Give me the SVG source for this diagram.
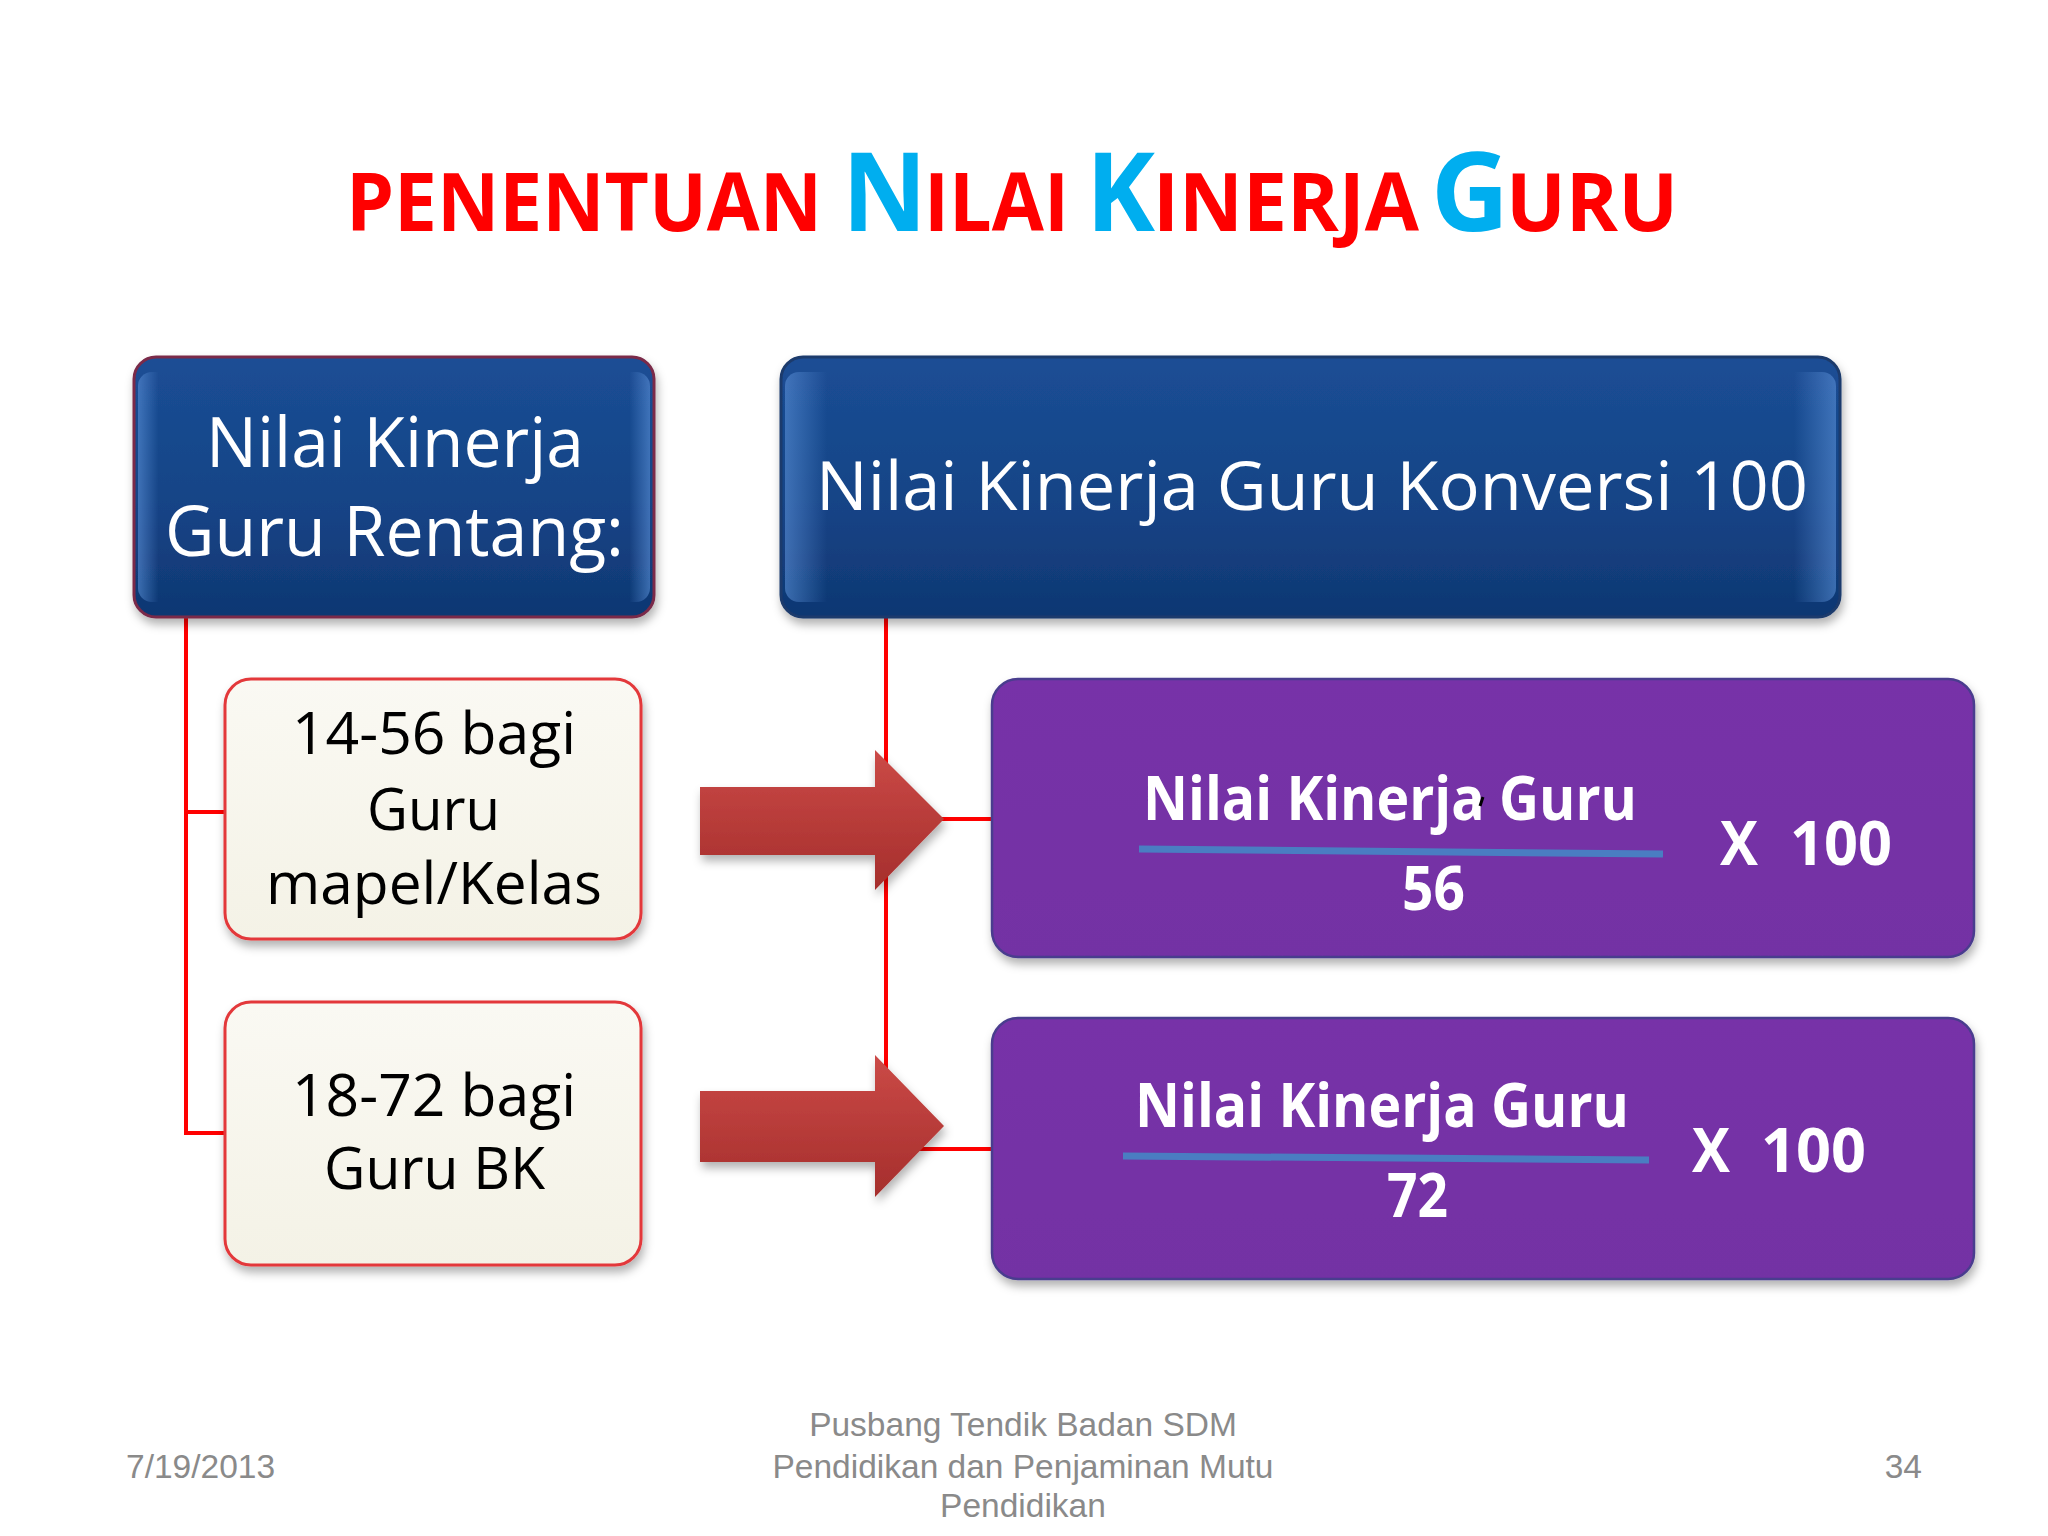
<svg xmlns="http://www.w3.org/2000/svg" width="2048" height="1536" viewBox="0 0 2048 1536">
<style>
.title{font-family:"Open Sans","Noto Sans",sans-serif;font-weight:bold}
.red{fill:#FF0000}
.cyan{fill:#00AEEF}
.wt{font-family:"Open Sans","Noto Sans",sans-serif;fill:#FFFFFF}
.bk{font-family:"Open Sans","Noto Sans",sans-serif;fill:#000000}
.bold{font-weight:bold}
.foot{font-family:"Liberation Sans",Arial,sans-serif;font-size:33.5px;fill:#8A8A8A}
.conn{fill:none;stroke:#FF0000;stroke-width:4}
</style>
<defs>
<linearGradient id="gBlue" x1="0" y1="0" x2="0" y2="1">
<stop offset="0" stop-color="#1B4E95"/>
<stop offset="0.6" stop-color="#154385"/>
<stop offset="1" stop-color="#0F3772"/>
</linearGradient>
<linearGradient id="gEdge" x1="0" y1="0" x2="1" y2="0">
<stop offset="0" stop-color="#5A8FD6" stop-opacity="0.6"/>
<stop offset="0.04" stop-color="#5A8FD6" stop-opacity="0"/>
<stop offset="0.96" stop-color="#5A8FD6" stop-opacity="0"/>
<stop offset="1" stop-color="#5A8FD6" stop-opacity="0.6"/>
</linearGradient>
<linearGradient id="gCream" x1="0" y1="0" x2="0" y2="1">
<stop offset="0" stop-color="#FAF9F3"/>
<stop offset="1" stop-color="#F4F2E6"/>
</linearGradient>
<linearGradient id="gPurple" x1="0" y1="0" x2="0" y2="1">
<stop offset="0" stop-color="#7733A8"/>
<stop offset="1" stop-color="#7331A4"/>
</linearGradient>
<linearGradient id="gArrow" x1="0" y1="0" x2="0" y2="1">
<stop offset="0" stop-color="#CB4A47"/>
<stop offset="1" stop-color="#A52E2C"/>
</linearGradient>
<filter id="sh" x="-10%" y="-10%" width="120%" height="130%">
<feDropShadow dx="2" dy="6" stdDeviation="5" flood-color="#000000" flood-opacity="0.3"/>
</filter>
</defs>
<rect width="2048" height="1536" fill="#FFFFFF"/>

<g id="title">
<text class="title red" x="346" y="231" font-size="81" textLength="476" lengthAdjust="spacingAndGlyphs">PENENTUAN</text>
<text class="title cyan" x="842" y="231" font-size="110" textLength="85" lengthAdjust="spacingAndGlyphs">N</text>
<text class="title red" x="924" y="231" font-size="81" textLength="145" lengthAdjust="spacingAndGlyphs">ILAI</text>
<text class="title cyan" x="1086" y="231" font-size="110" textLength="69" lengthAdjust="spacingAndGlyphs">K</text>
<text class="title red" x="1153" y="231" font-size="81" textLength="266" lengthAdjust="spacingAndGlyphs">INERJA</text>
<text class="title cyan" x="1431" y="231" font-size="110" textLength="78" lengthAdjust="spacingAndGlyphs">G</text>
<text class="title red" x="1506" y="231" font-size="81" textLength="172" lengthAdjust="spacingAndGlyphs">URU</text>
</g>

<g id="connectors">
<path class="conn" d="M186,617 V1133 H225 M186,812 H225"/>
<path class="conn" d="M886,617 V1149 H992 M886,819 H992"/>
</g>

<g id="node-rentang">
<rect x="134" y="357" width="520" height="260" rx="22" fill="url(#gBlue)" stroke="#7A2A48" stroke-width="3" filter="url(#sh)"/>
<rect x="138" y="372" width="512" height="230" rx="14" fill="url(#gEdge)"/>
<text class="wt" x="206" y="467" font-size="69" textLength="378" lengthAdjust="spacingAndGlyphs">Nilai Kinerja</text>
<text class="wt" x="165" y="556" font-size="69" textLength="459" lengthAdjust="spacingAndGlyphs">Guru Rentang:</text>
</g>

<g id="node-konversi">
<rect x="781" y="357" width="1059" height="260" rx="22" fill="url(#gBlue)" stroke="#1B3A6C" stroke-width="3" filter="url(#sh)"/>
<rect x="785" y="372" width="1051" height="230" rx="14" fill="url(#gEdge)"/>
<text class="wt" x="816" y="510" font-size="68" textLength="992" lengthAdjust="spacingAndGlyphs">Nilai Kinerja Guru Konversi 100</text>
</g>

<g id="node-mapel">
<rect x="225" y="679" width="416" height="260" rx="26" fill="url(#gCream)" stroke="#E3393B" stroke-width="3" filter="url(#sh)"/>
<text class="bk" x="292" y="754" font-size="58" textLength="284" lengthAdjust="spacingAndGlyphs">14-56 bagi</text>
<text class="bk" x="367" y="830" font-size="58" textLength="133" lengthAdjust="spacingAndGlyphs">Guru</text>
<text class="bk" x="266" y="904" font-size="58" textLength="336" lengthAdjust="spacingAndGlyphs">mapel/Kelas</text>
</g>

<g id="node-bk">
<rect x="225" y="1002" width="416" height="263" rx="26" fill="url(#gCream)" stroke="#E3393B" stroke-width="3" filter="url(#sh)"/>
<text class="bk" x="292" y="1116" font-size="58" textLength="284" lengthAdjust="spacingAndGlyphs">18-72 bagi</text>
<text class="bk" x="324" y="1189" font-size="58" textLength="221" lengthAdjust="spacingAndGlyphs">Guru BK</text>
</g>

<g id="arrow-1">
<polygon points="700,787 875,787 875,750 944,819 875,890 875,855 700,855" fill="url(#gArrow)" filter="url(#sh)"/>
</g>
<g id="arrow-2">
<polygon points="700,1091 875,1091 875,1055 944,1126 875,1197 875,1162 700,1162" fill="url(#gArrow)" filter="url(#sh)"/>
</g>

<g id="node-formula-56">
<rect x="992" y="679" width="982" height="278" rx="26" fill="url(#gPurple)" stroke="#4A3C8E" stroke-width="2.5" filter="url(#sh)"/>
<text class="wt bold" x="1143" y="820" font-size="60" textLength="494" lengthAdjust="spacingAndGlyphs">Nilai Kinerja Guru</text>
<path d="M1483,797 L1480,806" stroke="#000000" stroke-width="3" fill="none"/>
<path d="M1139,849 L1663,854" stroke="#4A7DC2" stroke-width="7" fill="none"/>
<text class="wt bold" x="1402" y="910" font-size="60" textLength="63" lengthAdjust="spacingAndGlyphs">56</text>
<text class="wt bold" x="1720" y="865" font-size="60" textLength="38" lengthAdjust="spacingAndGlyphs">X</text>
<text class="wt bold" x="1790" y="865" font-size="60" textLength="102" lengthAdjust="spacingAndGlyphs">100</text>
</g>

<g id="node-formula-72">
<rect x="992" y="1018" width="982" height="261" rx="26" fill="url(#gPurple)" stroke="#4A3C8E" stroke-width="2.5" filter="url(#sh)"/>
<text class="wt bold" x="1135" y="1127" font-size="60" textLength="494" lengthAdjust="spacingAndGlyphs">Nilai Kinerja Guru</text>
<path d="M1123,1156 L1649,1160" stroke="#4A7DC2" stroke-width="7" fill="none"/>
<text class="wt bold" x="1387" y="1217" font-size="60" textLength="61" lengthAdjust="spacingAndGlyphs">72</text>
<text class="wt bold" x="1692" y="1172" font-size="60" textLength="38" lengthAdjust="spacingAndGlyphs">X</text>
<text class="wt bold" x="1761" y="1172" font-size="60" textLength="105" lengthAdjust="spacingAndGlyphs">100</text>
</g>

<g id="footer">
<text class="foot" x="126" y="1478">7/19/2013</text>
<text class="foot" x="1023" y="1436" text-anchor="middle">Pusbang Tendik Badan SDM</text>
<text class="foot" x="1023" y="1478" text-anchor="middle">Pendidikan dan Penjaminan Mutu</text>
<text class="foot" x="1023" y="1517" text-anchor="middle">Pendidikan</text>
<text class="foot" x="1922" y="1478" text-anchor="end">34</text>
</g>
</svg>
